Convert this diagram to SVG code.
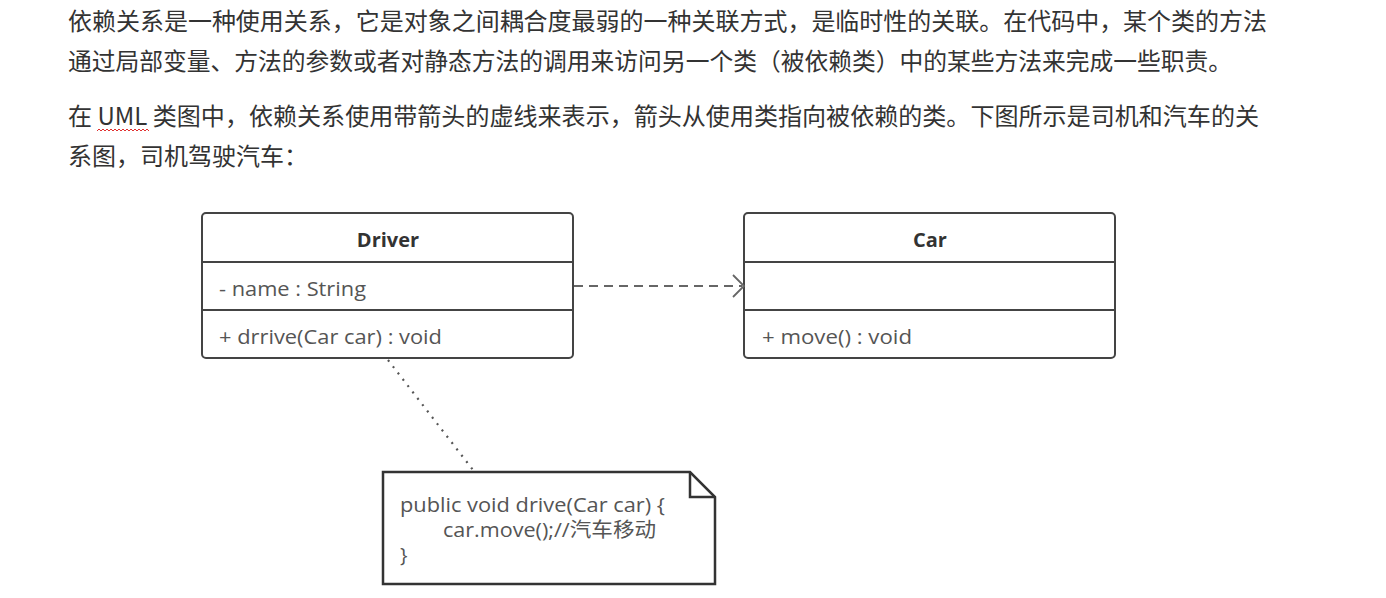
<svg xmlns="http://www.w3.org/2000/svg" width="1386" height="598" viewBox="0 0 1386 598">
<style>
.p{font-family:"Noto Sans CJK SC","Noto Sans",sans-serif;font-size:24px;fill:#333}
.box{fill:#fff;stroke:#444;stroke-width:2}
.div{stroke:#444;stroke-width:2}
.t{font-family:"Open Sans","Noto Sans","Noto Sans CJK SC",sans-serif;font-size:20.5px;fill:#555}
.b{font-weight:bold;fill:#333;text-anchor:middle;font-size:20px}
.n{font-family:"Open Sans","Noto Sans","Noto Sans CJK SC",sans-serif;font-size:20px;fill:#555}
</style>
<rect width="1386" height="598" fill="#fff"/>
<g id="text">
<text class="p" x="68" y="30" textLength="1199" lengthAdjust="spacingAndGlyphs">依赖关系是一种使用关系，它是对象之间耦合度最弱的一种关联方式，是临时性的关联。在代码中，某个类的方法</text>
<text class="p" x="68" y="70" textLength="1164" lengthAdjust="spacingAndGlyphs">通过局部变量、方法的参数或者对静态方法的调用来访问另一个类（被依赖类）中的某些方法来完成一些职责。</text>
<text class="p" x="68" y="125" textLength="1191" lengthAdjust="spacingAndGlyphs">在 UML 类图中，依赖关系使用带箭头的虚线来表示，箭头从使用类指向被依赖的类。下图所示是司机和汽车的关</text>
<text class="p" x="68" y="165">系图，司机驾驶汽车：</text>
<path d="M97 131 l2 -2 l2 2 l2 -2 l2 2 l2 -2 l2 2 l2 -2 l2 2 l2 -2 l2 2 l2 -2 l2 2 l2 -2 l2 2 l2 -2 l2 2 l2 -2 l2 2 l2 -2 l2 2 l2 -2 l2 2 l2 -2 l2 2 l2 -2 l2 2" fill="none" stroke="#e03030" stroke-width="1"/>
</g>
<g id="driver">
<rect class="box" x="202" y="213" width="371" height="145" rx="4"/>
<line class="div" x1="202" y1="262" x2="573" y2="262"/>
<line class="div" x1="202" y1="310" x2="573" y2="310"/>
<text class="t b" x="388" y="247">Driver</text>
<text class="t" x="219" y="296" textLength="147" lengthAdjust="spacingAndGlyphs">- name : String</text>
<text class="t" x="219" y="344" textLength="223" lengthAdjust="spacingAndGlyphs">+ drrive(Car car) : void</text>
</g>
<g id="car">
<rect class="box" x="744" y="213" width="371" height="145" rx="4"/>
<line class="div" x1="744" y1="262" x2="1115" y2="262"/>
<line class="div" x1="744" y1="310" x2="1115" y2="310"/>
<text class="t b" x="930" y="247">Car</text>
<text class="t" x="762" y="344" textLength="150" lengthAdjust="spacingAndGlyphs">+ move() : void</text>
</g>
<g id="note">
<path d="M383 472 H690 L715 497 V584 H383 Z" fill="#fff" stroke="#333" stroke-width="2.5"/>
<path d="M690 472 V497 H715" fill="none" stroke="#333" stroke-width="2.5"/>
<text class="n" x="400" y="512" textLength="265" lengthAdjust="spacingAndGlyphs">public void drive(Car car) {</text>
<text class="n" x="443" y="537" textLength="213" lengthAdjust="spacingAndGlyphs">car.move();//汽车移动</text>
<text class="n" x="400" y="562">}</text>
</g>
<g id="connectors" fill="none" stroke="#666">
<line x1="574" y1="286" x2="742" y2="286" stroke-width="2" stroke-dasharray="9,6"/>
<path d="M733 275 L744 286 L733 297" stroke-width="1.8"/>
<line x1="388" y1="360" x2="473" y2="470" stroke-width="2.2" stroke-dasharray="2,6" stroke="#555"/>
</g>
</svg>
